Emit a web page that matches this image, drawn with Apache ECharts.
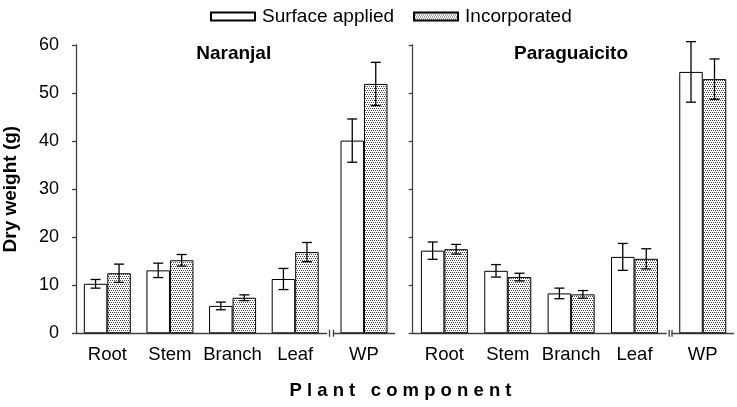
<!DOCTYPE html>
<html>
<head>
<meta charset="utf-8">
<script src="https://cdn.jsdelivr.net/npm/echarts@6/dist/echarts.min.js"></script>
<style>html,body{margin:0;padding:0;background:#fff}#c{width:737px;height:407px}</style>
</head>
<body>
<div id="c"></div>
<script>
// ---- data ----
var categories = ['Root', 'Stem', 'Branch', 'Leaf', 'WP'];
var seriesNames = ['Surface applied', 'Incorporated'];
var panelTitles = ['Naranjal', 'Paraguaicito'];
var xTitleWords = ['Plant', 'component'];
var yTicks = [0, 10, 20, 30, 40, 50, 60];

var naranjalSurface = [10.3, 13.1, 5.7, 11.3, 40.1];
var naranjalSurfaceErr = [0.9, 1.5, 0.8, 2.2, 4.5];
var naranjalIncorp = [12.5, 15.2, 7.4, 16.9, 51.9];
var naranjalIncorpErr = [1.9, 1.2, 0.6, 2.0, 4.5];

var paraguaicitoSurface = [17.2, 13.0, 8.3, 15.9, 54.4];
var paraguaicitoSurfaceErr = [1.8, 1.3, 1.1, 2.8, 6.3];
var paraguaicitoIncorp = [17.5, 11.7, 8.1, 15.5, 52.9];
var paraguaicitoIncorpErr = [1.0, 0.8, 0.8, 2.1, 4.2];

// ---- styling / layout ----
var FONT = "'Liberation Sans', Arial, Helvetica, sans-serif";
var AXIS_COLOR = '#404040';
var BAR_W = 23.5;
var TOP = 45, H = 288.3;
var grids = [
  {left: 73, top: TOP, width: 253.5, height: H},
  {left: 333.5, top: TOP, width: 61, height: H},
  {left: 412.7, top: TOP, width: 253.5, height: H},
  {left: 672, top: TOP, width: 61.5, height: H}
];

// dotted pattern
var pat = document.createElement('canvas');
pat.width = 4; pat.height = 4;
var pc = pat.getContext('2d');
pc.fillStyle = '#ffffff'; pc.fillRect(0, 0, 4, 4);
pc.fillStyle = '#454545';
pc.fillRect(0, 0, 1, 1); pc.fillRect(2, 0, 1, 1);
pc.fillRect(1, 2, 1, 1); pc.fillRect(3, 2, 1, 1);
var patternFill = {image: pat, repeat: 'repeat'};

var panels = [
  {s: naranjalSurface, se: naranjalSurfaceErr, i: naranjalIncorp, ie: naranjalIncorpErr},
  {s: paraguaicitoSurface, se: paraguaicitoSurfaceErr, i: paraguaicitoIncorp, ie: paraguaicitoIncorpErr}
];

var xAxes = [], yAxes = [], series = [];
function addGrid(gi, cats, showY, showLabels) {
  xAxes.push({
    type: 'category', gridIndex: gi, data: cats,
    axisLine: {show: true, lineStyle: {color: AXIS_COLOR, width: 1.3}},
    axisTick: {show: false},
    axisLabel: {interval: 0, color: '#000', fontFamily: FONT, fontSize: 18.5, margin: 12}
  });
  var ya = {
    type: 'value', gridIndex: gi, min: yTicks[0], max: yTicks[yTicks.length - 1], interval: 10,
    splitLine: {show: false},
    axisLine: {show: showY, lineStyle: {color: AXIS_COLOR, width: 1.3}},
    axisTick: {show: showY, length: 4, lineStyle: {color: AXIS_COLOR, width: 1.3}},
    axisLabel: {show: showLabels, color: '#000', fontFamily: FONT, fontSize: 18, margin: 17}
  };
  if (gi === 0) {
    ya.name = 'Dry weight (g)';
    ya.nameLocation = 'middle';
    ya.nameRotate = 90;
    ya.nameGap = 56;
    ya.nameTextStyle = {color: '#000', fontFamily: FONT, fontSize: 19, fontWeight: 'bold'};
  }
  yAxes.push(ya);
}

function errSeries(gi, vals, errs, sign) {
  return {
    type: 'custom', xAxisIndex: gi, yAxisIndex: gi, silent: true, z: 5,
    data: vals.map(function (v, k) { return [k, v, errs[k]]; }),
    renderItem: function (params, api) {
      var c = api.value(0), v = api.value(1), e = api.value(2);
      var p = api.coord([c, v]);
      var x = p[0] + sign * BAR_W / 2;
      var y1 = api.coord([c, v + e])[1];
      var y2 = api.coord([c, v - e])[1];
      var cw = 5;
      var st = {stroke: '#000', lineWidth: 1.3};
      return {type: 'group', children: [
        {type: 'line', shape: {x1: x, y1: y1, x2: x, y2: y2}, style: st},
        {type: 'line', shape: {x1: x - cw, y1: y1, x2: x + cw, y2: y1}, style: st},
        {type: 'line', shape: {x1: x - cw, y1: y2, x2: x + cw, y2: y2}, style: st}
      ]};
    }
  };
}

panels.forEach(function (p, pi) {
  var parts = [[0, 4], [4, 5]];
  parts.forEach(function (rg, k) {
    var gi = pi * 2 + k;
    addGrid(gi, categories.slice(rg[0], rg[1]), k === 0, gi === 0);
    series.push({
      name: seriesNames[0], type: 'bar', xAxisIndex: gi, yAxisIndex: gi,
      data: p.s.slice(rg[0], rg[1]), barWidth: BAR_W, barGap: '0%',
      itemStyle: {color: '#ffffff', borderColor: '#000', borderWidth: 1}
    });
    series.push({
      name: seriesNames[1], type: 'bar', xAxisIndex: gi, yAxisIndex: gi,
      data: p.i.slice(rg[0], rg[1]), barWidth: BAR_W, barGap: '0%',
      itemStyle: {color: patternFill, borderColor: '#000', borderWidth: 1}
    });
    series.push(errSeries(gi, p.s.slice(rg[0], rg[1]), p.se.slice(rg[0], rg[1]), -1));
    series.push(errSeries(gi, p.i.slice(rg[0], rg[1]), p.ie.slice(rg[0], rg[1]), 1));
  });
});

// letter-spaced axis title
var xTitle = xTitleWords.map(function (w) { return w.split('').join(' '); }).join('   ');

// axis-break marks and text graphics
var base = TOP + H;
var graphics = [];
[[grids[0], grids[1]], [grids[2], grids[3]]].forEach(function (pair) {
  var xa = pair[0].left + pair[0].width + 3, xb = pair[1].left;
  [xa, xb].forEach(function (x) {
    graphics.push({type: 'line', shape: {x1: x, y1: base - 3.5, x2: x, y2: base + 3.5},
      style: {stroke: AXIS_COLOR, lineWidth: 1.3}});
  });
});
graphics.push({type: 'text', x: 233.7, y: 53.5, style: {text: panelTitles[0], fill: '#000',
  font: 'bold 19px ' + FONT, textAlign: 'center', textVerticalAlign: 'middle'}});
graphics.push({type: 'text', x: 571, y: 53.5, style: {text: panelTitles[1], fill: '#000',
  font: 'bold 19px ' + FONT, textAlign: 'center', textVerticalAlign: 'middle'}});
graphics.push({type: 'text', x: 400.5, y: 391, style: {text: xTitle, fill: '#000',
  font: 'bold 18.5px ' + FONT, textAlign: 'center', textVerticalAlign: 'middle'}});

var chart = echarts.init(document.getElementById('c'), null, {renderer: 'canvas'});
chart.setOption({
  animation: false,
  backgroundColor: '#fff',
  legend: {
    data: seriesNames, left: 205, top: 2, itemWidth: 44, itemHeight: 8, itemGap: 19,
    icon: 'rect',
    textStyle: {color: '#000', fontFamily: FONT, fontSize: 19, padding: [0, 0, 0, 2]},
    selectedMode: false
  },
  grid: grids,
  xAxis: xAxes,
  yAxis: yAxes,
  series: series,
  graphic: graphics
});
</script>
</body>
</html>
